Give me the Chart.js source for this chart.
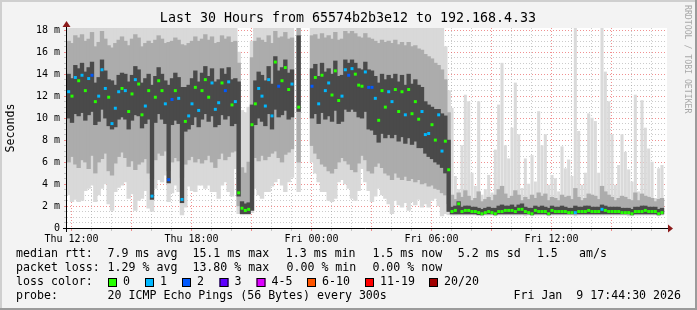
<!DOCTYPE html>
<html lang="en">
<head>
  <meta charset="UTF-8">
  <title>Smokeping - Last 30 Hours</title>
  <script src="https://cdn.jsdelivr.net/npm/chart.js"></script>
  <style>
    html, body { margin: 0; padding: 0; background: #f3f3f3; }
    canvas { display: block; }
  </style>
</head>
<body>
  <canvas id="chart" width="697" height="310"></canvas>
  <script>
    const mono = "'DejaVu Sans Mono', monospace";
    const titleText = 'Last 30 Hours from 65574b2b3e12 to 192.168.4.33';

    // hours since Thu 00:00, one column every 10 minutes
    const tStart = 11.775;   // Thu 11:46:30
    const tEnd = 41.775;     // Fri 17:46:30
    const colStep = 1 / 6;
    const quietFrom = 115;   // first column after the latency drop

    const xTickHours = [12, 18, 24, 30, 36];
    const xTickLabels = ['Thu 12:00', 'Thu 18:00', 'Fri 00:00', 'Fri 06:00', 'Fri 12:00'];
    const yTickValues = [0, 2, 4, 6, 8, 10, 12, 14, 16, 18];
    const yTickLabels = ['0', '2 m', '4 m', '6 m', '8 m', '10 m', '12 m', '14 m', '16 m', '18 m'];

    // median rtt (ms) per column
    const med = [
      12.4, 12.0, 13.7, 13.4, 13.9, 12.5, 13.6, 13.9, 11.5, 12.0,
      14.4, 12.7, 11.9, 9.5, 10.9, 12.4, 12.7, 12.5, 10.6, 12.2,
      13.5, 13.1, 10.3, 11.1, 12.5, 2.9, 11.9, 13.4, 12.5, 11.3,
      4.4, 11.7, 12.5, 11.8, 2.6, 9.7, 10.2, 11.3, 12.8, 10.7,
      12.5, 13.5, 11.9, 13.2, 10.8, 11.4, 13.2, 12.5, 13.3, 11.2,
      11.5, 3.2, 1.8, 1.6, 1.7, 9.4, 11.3, 12.7, 12.0, 11.1,
      13.5, 10.2, 15.1, 12.9, 13.4, 14.6, 12.6, 13.1, null, 11.0,
      null, null, null, 12.9, 13.7, 11.3, 13.9, 12.5, 13.2, 12.1,
      14.3, 11.6, 12.0, 14.4, 13.9, 14.5, 14.0, 13.0, 12.9, 14.2,
      12.8, 12.8, 11.8, 9.8, 12.5, 11.0, 12.4, 11.5, 12.6, 10.6,
      12.4, 10.3, 12.6, 10.4, 11.5, 9.9, 10.6, 8.5, 8.6, 9.4,
      8.0, 10.3, 7.0, 7.9, 5.3, 1.5, 1.6, 2.2, 1.5, 1.6,
      1.6, 1.5, 1.5, 1.4, 1.3, 1.4, 1.5, 1.4, 1.3, 1.5,
      1.5, 1.6, 1.6, 1.6, 1.5, 1.7, 1.7, 1.5, 1.4, 1.3,
      1.6, 1.5, 1.5, 1.5, 1.3, 1.6, 1.5, 1.5, 1.5, 1.5,
      1.4, 1.4, 1.4, 1.5, 1.5, 1.5, 1.6, 1.5, 1.5, 1.5,
      1.7, 1.6, 1.5, 1.5, 1.5, 1.5, 1.4, 1.4, 1.4, 1.3,
      1.5, 1.5, 1.5, 1.6, 1.5, 1.5, 1.5, 1.3, 1.4
    ];

    // lost pings out of 20 per column
    const loss = [
      1, 0, 1, 0, 1, 0, 1, 2, 0, 1,
      1, 1, 0, 1, 1, 1, 0, 1, 0, 0,
      1, 0, 0, 1, 0, 1, 0, 0, 0, 1,
      2, 2, 0, 1, 1, 0, 1, 1, 0, 1,
      0, 0, 0, 1, 1, 1, 0, 2, 1, 0,
      1, 0, 0, 0, 0, 0, 0, 1, 1, 1,
      1, 1, 0, 2, 0, 0, 0, 1, 0, 0,
      0, 0, 0, 2, 0, 1, 0, 1, 1, 0,
      0, 0, 1, 1, 2, 1, 0, 0, 0, 1,
      2, 2, 1, 0, 0, 0, 1, 1, 0, 0,
      0, 1, 0, 0, 0, 0, 1, 1, 1, 0,
      0, 1, 1, 0, 0, 0, 0, 0, 0, 0,
      0, 0, 0, 0, 0, 0, 0, 0, 0, 0,
      0, 0, 0, 0, 0, 0, 0, 0, 0, 0,
      0, 0, 0, 0, 0, 0, 0, 0, 0, 0,
      0, 0, 1, 0, 0, 0, 0, 0, 0, 0,
      1, 0, 0, 0, 0, 0, 0, 0, 0, 0,
      0, 0, 0, 0, 0, 0, 0, 0, 0
    ];

    // smoke: full spread of the pings (min / max)
    const lo = [
      3.0, 2.4, 2.6, 2.4, 2.5, 3.4, 3.6, 3.9, 2.4, 3.0,
      3.6, 4.0, 2.2, 1.6, 3.3, 3.7, 3.9, 4.2, 2.7, 3.1,
      1.6, 2.5, 2.7, 3.4, 1.8, 1.5, 3.6, 4.4, 4.2, 4.8,
      2.4, 3.2, 3.9, 3.3, 1.2, 1.9, 3.8, 3.4, 3.3, 3.9,
      3.9, 3.6, 3.9, 3.3, 3.3, 2.7, 3.9, 4.2, 3.3, 2.9,
      5.4, 1.3, 1.2, 1.2, 1.2, 1.4, 3.6, 3.0, 2.7, 3.3,
      3.3, 3.8, 4.2, 4.5, 3.9, 3.3, 4.2, 4.6, null, 3.3,
      null, null, null, 6.0, 5.0, 4.2, 3.3, 3.3, 2.5, 2.4,
      2.7, 4.2, 4.4, 4.0, 3.6, 2.7, 2.5, 3.4, 5.4, 4.2,
      3.4, 2.4, 2.9, 3.6, 3.0, 2.7, 2.2, 1.3, 2.5, 2.1,
      1.9, 2.3, 1.6, 2.4, 2.1, 2.6, 1.9, 2.2, 1.9, 2.5,
      2.7, 2.0, 1.1, 1.3, 1.2, 1.2, 1.2, 1.3, 1.2, 1.2,
      1.2, 1.3, 1.2, 1.2, 1.1, 1.2, 1.2, 1.2, 1.1, 1.2,
      1.2, 1.2, 1.3, 1.2, 1.2, 1.2, 1.2, 1.1, 1.2, 1.1,
      1.2, 1.2, 1.2, 1.2, 1.1, 1.2, 1.2, 1.2, 1.2, 1.2,
      1.2, 1.2, 1.1, 1.2, 1.2, 1.2, 1.2, 1.2, 1.2, 1.2,
      1.2, 1.2, 1.2, 1.2, 1.2, 1.2, 1.2, 1.2, 1.1, 1.1,
      1.2, 1.2, 1.2, 1.2, 1.2, 1.2, 1.2, 1.1, 1.2
    ];
    const hi = [
      18.2, 18.2, 18.2, 18.2, 18.2, 18.2, 18.2, 18.2, 18.2, 18.2,
      18.2, 18.2, 18.2, 18.2, 18.2, 18.2, 18.2, 18.2, 18.2, 18.2,
      18.2, 18.2, 18.2, 18.2, 18.2, 18.2, 18.2, 18.2, 18.2, 18.2,
      18.2, 18.2, 18.2, 18.2, 18.2, 18.2, 18.2, 18.2, 18.2, 18.2,
      18.2, 18.2, 18.2, 18.2, 18.2, 18.2, 18.2, 18.2, 18.2, 18.2,
      18.2, 16.0, 10.7, 10.5, 11.0, 17.0, 18.2, 18.2, 18.2, 18.2,
      18.2, 18.2, 18.2, 18.2, 18.2, 18.2, 18.2, 18.2, null, 18.2,
      null, null, null, 18.2, 18.2, 18.2, 18.2, 18.2, 18.2, 18.2,
      18.2, 18.2, 18.2, 18.2, 18.2, 18.2, 18.2, 18.2, 18.2, 18.2,
      18.2, 18.2, 18.2, 18.2, 18.2, 18.2, 18.2, 18.2, 18.2, 18.2,
      18.2, 18.2, 18.2, 18.2, 18.2, 18.2, 18.2, 18.2, 18.2, 18.2,
      18.2, 18.2, 18.2, 16.5, 12.5, 10.9, 4.7, 3.5, 7.5, 12.1,
      11.5, 5.0, 3.8, 11.5, 3.0, 3.5, 4.8, 3.2, 7.1, 11.2,
      15.0, 7.5, 6.3, 9.1, 13.2, 8.5, 3.6, 6.3, 4.0, 6.6,
      4.2, 10.6, 7.5, 8.5, 3.9, 4.8, 4.5, 3.3, 7.4, 5.4,
      6.2, 4.7, 18.2, 8.8, 3.9, 5.0, 10.4, 10.0, 9.7, 5.0,
      18.2, 14.2, 11.5, 8.5, 3.9, 5.7, 8.5, 6.9, 5.3, 4.2,
      12.1, 3.3, 11.6, 9.1, 7.2, 6.0, 2.7, 5.4, 5.7
    ];

    // smoke: middle part of the pings
    const mlo = [
      6.0, 6.5, 5.8, 5.5, 6.2, 6.0, 5.4, 6.6, 5.0, 6.0,
      6.3, 6.8, 5.2, 4.8, 5.9, 6.5, 6.9, 6.4, 5.6, 6.1,
      5.3, 5.8, 6.0, 6.3, 5.0, 4.5, 6.2, 6.8, 6.6, 7.0,
      5.2, 6.0, 6.4, 6.1, 4.6, 5.8, 6.2, 6.5, 6.0, 6.3,
      5.9, 6.2, 6.6, 6.0, 5.5, 6.3, 6.8, 6.2, 6.5, 6.9,
      7.0, 2.0, 1.4, 1.4, 1.4, 3.0, 6.4, 6.1, 6.6, 6.2,
      6.5, 6.8, 7.0, 6.4, 6.0, 6.7, 6.9, 7.2, null, 6.0,
      null, null, null, 7.5, 6.8, 6.3, 5.8, 5.6, 5.2, 5.0,
      5.4, 6.0, 6.4, 6.1, 5.8, 5.3, 5.1, 5.9, 6.6, 6.2,
      5.2, 5.0, 5.6, 5.9, 5.5, 5.0, 4.8, 4.4, 5.0, 4.6,
      4.4, 4.7, 4.3, 4.5, 4.2, 4.4, 4.0, 4.1, 3.8, 3.9,
      3.6, 3.5, 3.2, 3.0, 2.2, 1.2, 1.2, 1.2, 1.2, 1.2,
      1.2, 1.2, 1.2, 1.2, 1.2, 1.2, 1.2, 1.2, 1.2, 1.2,
      1.2, 1.2, 1.2, 1.2, 1.2, 1.2, 1.2, 1.2, 1.2, 1.2,
      1.2, 1.2, 1.2, 1.2, 1.2, 1.2, 1.2, 1.2, 1.2, 1.2,
      1.2, 1.2, 1.2, 1.2, 1.2, 1.2, 1.2, 1.2, 1.2, 1.2,
      1.2, 1.2, 1.2, 1.2, 1.2, 1.2, 1.2, 1.2, 1.2, 1.2,
      1.2, 1.2, 1.2, 1.2, 1.2, 1.2, 1.2, 1.2, 1.2
    ];
    const mhi = [
      17.0, 16.8, 17.5, 17.3, 17.6, 17.0, 17.2, 17.8, 16.5, 16.9,
      17.9, 17.2, 16.6, 16.4, 16.8, 17.1, 17.4, 17.0, 16.6, 17.2,
      17.6, 17.3, 16.5, 16.8, 17.0, 16.8, 17.1, 17.5, 17.2, 16.8,
      16.9, 17.0, 17.3, 17.1, 16.7, 16.6, 16.8, 17.0, 17.4, 17.0,
      17.2, 17.6, 17.1, 17.4, 16.8, 16.9, 17.5, 17.2, 17.4, 16.9,
      17.0, 15.0, 5.5, 5.0, 6.0, 15.5, 17.0, 17.3, 17.1, 16.9,
      17.5, 16.8, 17.9, 17.3, 17.4, 17.8, 17.2, 17.3, null, 18.2,
      null, null, null, 17.5, 17.6, 17.2, 17.7, 17.3, 17.5, 17.2,
      17.8, 17.1, 17.2, 17.9, 17.7, 17.9, 17.7, 17.4, 17.3, 17.7,
      17.3, 17.2, 17.0, 16.8, 17.1, 16.9, 17.0, 16.8, 17.1, 16.7,
      16.9, 16.6, 16.9, 16.5, 16.6, 16.3, 16.2, 15.8, 15.6, 15.4,
      15.0, 14.8, 14.4, 13.5, 10.5, 3.0, 2.6, 3.2, 2.8, 3.4,
      2.9, 2.5, 2.7, 3.3, 2.4, 2.6, 2.8, 2.5, 3.0, 3.5,
      3.8, 3.1, 2.7, 2.9, 3.4, 3.0, 2.5, 2.8, 2.6, 3.0,
      2.7, 3.2, 2.9, 3.1, 2.5, 2.8, 2.7, 2.5, 3.0, 2.8,
      2.9, 2.6, 3.6, 2.8, 2.5, 2.7, 3.1, 3.0, 2.9, 2.6,
      3.8, 3.3, 3.0, 2.8, 2.5, 2.7, 2.9, 2.8, 2.6, 2.5,
      3.2, 2.5, 3.1, 2.9, 2.8, 2.7, 2.4, 2.6, 2.7
    ];

    // smoke: pings close to the median
    const dlo = [
      10.0, 9.6, 10.4, 10.2, 10.5, 9.8, 10.3, 10.6, 9.4, 9.7,
      10.8, 10.0, 9.3, 9.0, 9.2, 9.9, 10.1, 9.9, 9.0, 9.8,
      10.3, 10.2, 9.1, 9.5, 9.9, 2.6, 9.6, 10.4, 9.9, 9.5,
      4.1, 9.4, 9.8, 9.5, 2.3, 8.8, 9.0, 9.4, 10.1, 9.2,
      9.9, 10.4, 9.7, 10.2, 9.2, 9.4, 10.3, 9.9, 10.2, 9.3,
      9.5, 2.9, 1.3, 1.3, 1.3, 1.6, 9.4, 10.0, 9.7, 9.3,
      10.4, 9.0, 10.8, 10.1, 10.3, 10.7, 9.9, 10.1, null, 10.6,
      null, null, null, 10.0, 10.4, 9.5, 10.5, 9.9, 10.2, 9.7,
      10.7, 9.5, 9.7, 10.8, 10.6, 10.8, 10.6, 10.1, 10.0, 10.6,
      9.0, 8.9, 8.5, 7.8, 8.6, 8.2, 8.5, 8.2, 8.5, 7.9,
      8.3, 7.7, 8.2, 7.6, 7.9, 7.3, 7.3, 6.8, 6.5, 6.3,
      6.0, 5.8, 5.5, 5.0, 1.5, 1.3, 1.3, 1.3, 1.3, 1.3,
      1.3, 1.3, 1.3, 1.2, 1.2, 1.3, 1.3, 1.3, 1.2, 1.3,
      1.3, 1.3, 1.3, 1.3, 1.3, 1.3, 1.3, 1.3, 1.3, 1.2,
      1.3, 1.3, 1.3, 1.3, 1.2, 1.3, 1.3, 1.3, 1.3, 1.3,
      1.3, 1.3, 1.3, 1.3, 1.3, 1.3, 1.3, 1.3, 1.3, 1.3,
      1.3, 1.3, 1.3, 1.3, 1.3, 1.3, 1.3, 1.3, 1.3, 1.2,
      1.3, 1.3, 1.3, 1.3, 1.3, 1.3, 1.3, 1.2, 1.3
    ];
    const dhi = [
      14.0, 13.6, 14.8, 14.5, 15.0, 14.2, 14.6, 15.1, 13.2, 13.7,
      15.3, 14.3, 13.5, 13.4, 13.0, 13.9, 14.1, 14.0, 13.3, 13.9,
      14.7, 14.4, 13.2, 13.6, 14.0, 13.0, 13.8, 14.6, 14.0, 13.4,
      13.0, 13.6, 14.1, 13.7, 12.8, 12.8, 13.0, 13.6, 14.3, 13.3,
      14.1, 14.7, 13.8, 14.5, 13.3, 13.5, 14.5, 14.0, 14.6, 13.5,
      13.6, 13.3, 2.4, 2.2, 2.3, 11.2, 13.4, 14.2, 13.9, 13.4,
      14.7, 13.1, 15.6, 14.3, 14.6, 15.3, 14.1, 14.4, null, 17.5,
      null, null, null, 14.5, 14.9, 13.8, 15.0, 14.2, 14.5, 14.0,
      15.2, 13.8, 13.9, 15.3, 15.0, 15.3, 15.0, 14.5, 14.4, 15.1,
      14.4, 14.3, 13.8, 13.2, 14.0, 13.5, 13.9, 13.6, 14.0, 13.3,
      13.9, 13.0, 14.0, 13.1, 13.5, 13.0, 12.8, 11.5, 11.2, 11.0,
      10.8, 10.8, 10.4, 10.2, 8.0, 1.9, 2.0, 2.4, 1.9, 2.0,
      2.0, 1.9, 1.9, 1.8, 1.7, 1.8, 1.9, 1.8, 1.8, 2.0,
      2.1, 2.0, 2.0, 2.1, 1.9, 2.1, 2.2, 1.9, 1.8, 1.8,
      2.0, 1.9, 2.0, 1.9, 1.8, 2.0, 1.9, 1.9, 2.0, 1.9,
      1.8, 1.8, 2.0, 1.9, 1.9, 2.0, 2.0, 1.9, 1.9, 1.9,
      2.1, 2.0, 1.9, 1.9, 1.9, 1.9, 1.8, 1.8, 1.8, 1.7,
      1.9, 1.9, 2.0, 2.0, 1.9, 1.9, 1.9, 1.7, 1.8
    ];

    const lossLabels = ['0', '1', '2', '3', '4-5', '6-10', '11-19', '20/20'];
    const lossColors = ['#26ff00', '#00b8ff', '#0059ff', '#5e00ff', '#dd00ff', '#ff5500', '#ff0000', '#a10000'];

    // column centres on the time axis
    const colX = med.map((_, i) => tStart + (i + 0.5) * colStep);

    const band = (a, b, from = 0, to = colX.length) => colX
      .map((x, i) => (a[i] == null || i < from || i >= to ? null : { x, y: [a[i], b[i]] }))
      .filter(p => p);

    const medPoints = colX
      .map((x, i) => (med[i] == null ? null : { x, y: med[i], l: loss[i] }))
      .filter(p => p);

    const hourTicks = [];
    for (let h = 12; h <= 41; h++) hourTicks.push(h);
    const halfTicks = [];
    for (let v = 0; v <= 18; v += 0.5) halfTicks.push(v);

    const majorGrid = 'rgba(230, 70, 70, 0.6)';
    const minorGrid = 'rgba(140, 140, 140, 0.45)';

    const smokeBar = (label, data, color, order, width = 3.7) => ({
      type: 'bar',
      label,
      data,
      backgroundColor: color,
      borderWidth: 0,
      barThickness: width,
      grouped: false,
      order
    });

    // background, axes with arrows, title and the legend block
    const framePlugin = {
      id: 'frame',
      beforeDraw(chart) {
        const { ctx, chartArea: a } = chart;
        ctx.save();
        ctx.fillStyle = '#f3f3f3';
        ctx.fillRect(0, 0, chart.width, chart.height);
        ctx.fillStyle = '#ffffff';
        ctx.fillRect(a.left, a.top, a.right - a.left, a.bottom - a.top);
        ctx.restore();
      },
      afterDraw(chart) {
        const { ctx, chartArea: a } = chart;
        ctx.save();

        // axes
        ctx.strokeStyle = '#000';
        ctx.lineWidth = 1;
        ctx.beginPath();
        ctx.moveTo(63, a.bottom + 0.5);
        ctx.lineTo(a.right + 1, a.bottom + 0.5);
        ctx.moveTo(a.left - 0.5, a.bottom + 4);
        ctx.lineTo(a.left - 0.5, a.top - 1);
        ctx.stroke();
        ctx.fillStyle = '#8b1a1a';
        ctx.beginPath();
        ctx.moveTo(a.right + 1, a.bottom - 3.5);
        ctx.lineTo(a.right + 6, a.bottom + 0.5);
        ctx.lineTo(a.right + 1, a.bottom + 4.5);
        ctx.closePath();
        ctx.fill();
        ctx.beginPath();
        ctx.moveTo(a.left - 4.5, a.top - 1);
        ctx.lineTo(a.left - 0.5, a.top - 7);
        ctx.lineTo(a.left + 3.5, a.top - 1);
        ctx.closePath();
        ctx.fill();

        // title
        ctx.fillStyle = '#000';
        ctx.font = '13.3px ' + mono;
        ctx.textAlign = 'center';
        ctx.textBaseline = 'middle';
        ctx.fillText(titleText, 348, 19);

        // y axis title
        ctx.font = '11.6px ' + mono;
        ctx.save();
        ctx.translate(11, (a.top + a.bottom) / 2);
        ctx.rotate(-Math.PI / 2);
        ctx.fillText('Seconds', 0, 0);
        ctx.restore();

        // watermark
        ctx.save();
        ctx.fillStyle = '#a8a8a8';
        ctx.font = '8.2px ' + mono;
        ctx.textAlign = 'left';
        ctx.translate(687, 5);
        ctx.rotate(Math.PI / 2);
        ctx.fillText('RRDTOOL / TOBI OETIKER', 0, 0);
        ctx.restore();

        // legend rows
        ctx.textAlign = 'left';
        ctx.font = '11.6px ' + mono;
        const rows = [
          [254, [[16, 'median rtt:'], [107.6, '7.9 ms avg'], [192.4, '15.1 ms max'], [285.8, '1.3 ms min'],
                 [372.4, '1.5 ms now'], [457.8, '5.2 ms sd'], [536.9, '1.5'], [579.1, 'am/s']]],
          [268, [[16, 'packet loss:'], [107.6, '1.29 % avg'], [192.4, '13.80 % max'], [286.5, '0.00 % min'],
                 [372.4, '0.00 % now']]],
          [282, [[16, 'loss color:']]],
          [296, [[16, 'probe:'], [107.6, '20 ICMP Echo Pings (56 Bytes) every 300s']]]
        ];
        rows.forEach(([y, parts]) => parts.forEach(([x, t]) => ctx.fillText(t, x, y)));

        const boxX = [108, 145, 182, 219.5, 256.5, 307, 365, 429];
        lossLabels.forEach((t, i) => {
          ctx.fillStyle = lossColors[i];
          ctx.fillRect(boxX[i], 278, 9, 9);
          ctx.strokeStyle = '#000';
          ctx.strokeRect(boxX[i] + 0.5, 278.5, 8, 8);
          ctx.fillStyle = '#000';
          ctx.fillText(t, boxX[i] + 15, 282);
        });

        ctx.textAlign = 'right';
        ctx.fillText('Fri Jan  9 17:44:30 2026', 681, 296);

        // frame
        ctx.fillStyle = '#cfcfcf';
        ctx.fillRect(0, 0, chart.width, 2);
        ctx.fillRect(0, 0, 2, chart.height);
        ctx.fillStyle = '#9b9b9b';
        ctx.fillRect(0, chart.height - 2, chart.width, 2);
        ctx.fillRect(chart.width - 2, 0, 2, chart.height);
        ctx.restore();
      }
    };

    new Chart(document.getElementById('chart'), {
      type: 'bar',
      data: {
        datasets: [
          {
            type: 'line',
            label: 'median rtt',
            data: medPoints,
            showLine: false,
            pointStyle: 'rect',
            pointRadius: 2.1,
            pointHoverRadius: 2.1,
            pointBorderWidth: 0,
            pointBackgroundColor: c => lossColors[c.raw ? c.raw.l : 0],
            order: 0
          },
          smokeBar('smoke dark', band(dlo, dhi), '#4a4a4a', 1),
          smokeBar('smoke mid', band(mlo, mhi), '#acacac', 2),
          smokeBar('smoke light', band(lo, hi, 0, quietFrom), '#d9d9d9', 3),
          smokeBar('smoke light (quiet)', band(lo, hi, quietFrom), '#dadada', 3, 2.4)
        ]
      },
      options: {
        responsive: false,
        animation: false,
        devicePixelRatio: 1,
        layout: { padding: { top: 28, right: 30, left: 0, bottom: 0 } },
        plugins: { legend: { display: false }, tooltip: { enabled: false } },
        scales: {
          x: {
            type: 'linear',
            min: tStart,
            max: tEnd,
            offset: false,
            z: 1,
            afterBuildTicks: s => { s.ticks = hourTicks.map(v => ({ value: v })); },
            afterFit: s => { s.height = 82; },
            grid: {
              offset: false,
              color: c => (c.tick && c.tick.value % 3 === 0 ? majorGrid : minorGrid),
              tickColor: c => (c.tick && c.tick.value % 3 === 0 ? majorGrid : minorGrid),
              tickLength: 3
            },
            border: { display: false, dash: [1, 2] },
            ticks: {
              autoSkip: false,
              maxRotation: 0,
              padding: 2,
              color: '#000',
              font: { family: mono, size: 10 },
              callback: v => {
                const i = xTickHours.indexOf(v);
                return i < 0 ? '' : xTickLabels[i];
              }
            }
          },
          y: {
            type: 'linear',
            min: 0,
            max: 18.2,
            z: 1,
            afterBuildTicks: s => { s.ticks = halfTicks.map(v => ({ value: v })); },
            afterFit: s => { s.width = 67; },
            grid: {
              color: c => (c.tick && c.tick.value % 2 === 0 ? majorGrid : minorGrid),
              tickColor: c => (c.tick && c.tick.value % 2 === 0 ? majorGrid : minorGrid),
              tickLength: 3
            },
            border: { display: false, dash: [1, 2] },
            ticks: {
              autoSkip: false,
              padding: 4,
              color: '#000',
              font: { family: mono, size: 10 },
              callback: v => {
                const i = yTickValues.indexOf(v);
                return i < 0 ? '' : yTickLabels[i];
              }
            }
          }
        }
      },
      plugins: [framePlugin]
    });
  </script>
</body>
</html>
